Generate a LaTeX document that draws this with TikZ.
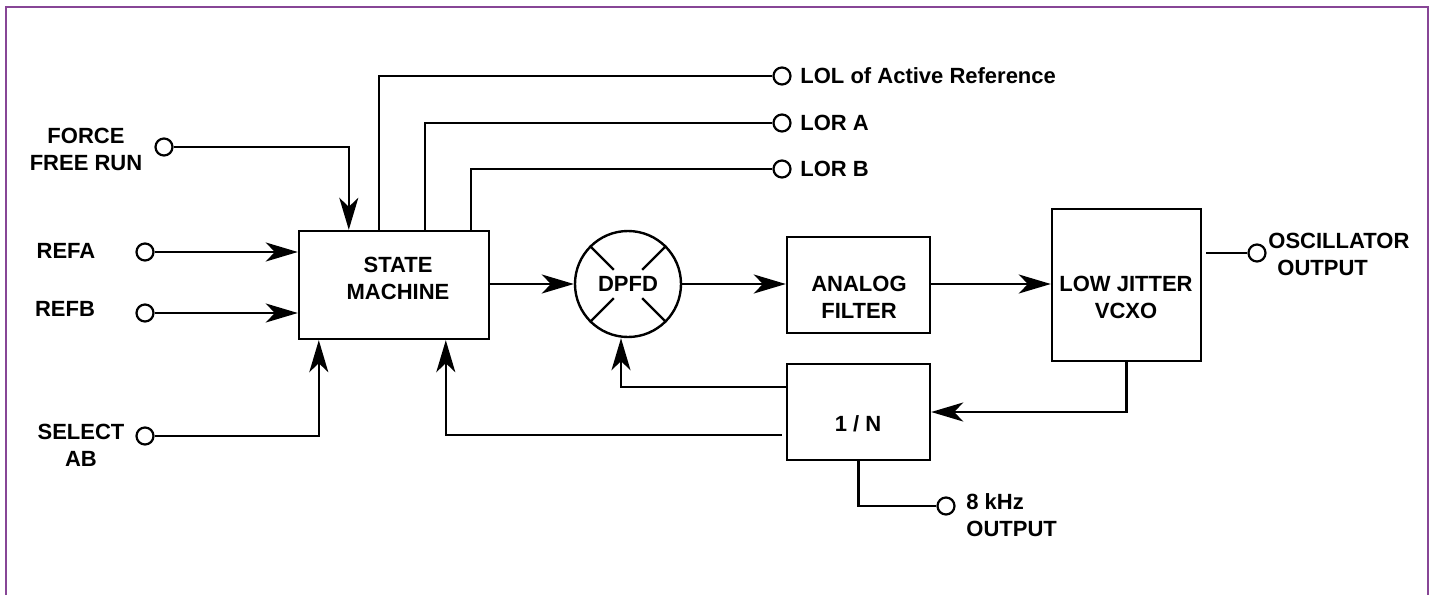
\documentclass[tikz,border=0pt]{standalone}
\usepackage{fontspec}
\setmainfont{Liberation Sans}
\usetikzlibrary{arrows.meta,calc}
\definecolor{frame}{RGB}{135,70,150}
\begin{document}
\begin{tikzpicture}[x=0.5pt,y=-0.5pt,
  every node/.style={font=\fontsize{11}{13.5}\selectfont\bfseries},
  wire/.style={line width=1.1pt,line join=miter},
  arr/.style={wire,-{Stealth[length=16pt,width=9.5pt,inset=4.5pt]}},
  blk/.style={draw,line width=1.2pt,inner sep=0pt},
  term/.style={draw,circle,line width=1.1pt,minimum size=8.5pt,inner sep=0pt,fill=white},
  lbl/.style={inner sep=0pt,align=center},
  lbll/.style={inner sep=0pt,align=left,anchor=west}]
\useasboundingbox (0,0) rectangle (1436,595);
\draw[frame,line width=1pt] (6,595) -- (6,7) -- (1428,7) -- (1428,595);

% blocks
\node[blk,minimum width=95pt,minimum height=54pt] (sm) at (394,285) {};
\node[lbl] (smt) at (398,278) {STATE\\MACHINE};
\node[blk,circle,minimum size=53pt] (dpfd) at (628,284) {};
\node[lbl] (dpfdt) at (628,284) {DPFD};
\node[blk,minimum width=71.5pt,minimum height=48pt] (af) at (858.5,285) {};
\node[lbl] (aft) at (859,297) {ANALOG\\FILTER};
\node[blk,minimum width=74.5pt,minimum height=76pt] (vcxo) at (1126.5,285) {};
\node[lbl] (vcxot) at (1126,297) {LOW JITTER\\VCXO};
\node[blk,minimum width=71.5pt,minimum height=48pt] (div) at (858.5,412) {};
\node[lbl] (divt) at (858,424) {1 / N};

% DPFD cross
\foreach \a in {45,135,225,315}
  \draw[wire] (dpfd.\a) -- ($(dpfd.center)+(\a:10pt)$);

% terminals
\node[term] (ffr) at (164,147) {};
\node[term] (refa) at (145,252) {};
\node[term] (refb) at (145,313) {};
\node[term] (sel) at (145,436) {};
\node[term] (lol) at (782,76) {};
\node[term] (lora) at (782,123) {};
\node[term] (lorb) at (782,169) {};
\node[term] (osc) at (1257,253) {};
\node[term] (khz) at (946,506) {};

% labels
\node[lbl] (ffrl) at (86,149) {FORCE\\FREE RUN};
\node[lbl] (refal) at (66,251) {REFA};
\node[lbl] (refbl) at (65,309) {REFB};
\node[lbl] (sell) at (81,445) {SELECT\\AB};
\node[lbll] (loll) at (800,76) {LOL of Active Reference};
\node[lbll] (loral) at (800,123) {LOR A};
\node[lbll] (lorbl) at (800,169) {LOR B};
\node[lbll] (oscl) at (1268,254) {OSCILLATOR\\\hspace*{4.5pt}OUTPUT};
\node[lbll] (khzl) at (966,515) {8 kHz\\OUTPUT};

% connectors
\draw[arr] (refa.east) -- (refa -| sm.west);
\draw[arr] (refb.east) -- (refb -| sm.west);
\draw[arr] (ffr.east) -| ($(sm.north west)+(51,0)$);
\draw[arr] (sel.east) -| ($(sm.south west)+(21,0)$);
\draw[wire] ($(sm.north west)+(81,0)$) |- (lol.west);
\draw[wire] ($(sm.north west)+(127,0)$) |- (lora.west);
\draw[wire] ($(sm.north west)+(173,0)$) |- (lorb.west);
\draw[arr] (sm.east |- dpfd.west) -- (dpfd.west);
\draw[arr] (dpfd.east) -- (af.west |- dpfd.east);
\draw[arr] (af.east |- dpfd.east) -- (vcxo.west |- dpfd.east);
\draw[wire,shorten <=2pt] (vcxo.east |- osc) -- (osc.west);
\draw[arr] (vcxo.south) |- (div.east);
\draw[arr] ($(div.north west)+(0,24)$) -| ($(dpfd.south)+(-7,0)$);
\draw[arr] ($(div.north west)+(-4,72)$) -| ($(sm.south west)+(148,0)$);
\draw[wire] (div.south) |- (khz.west);
\end{tikzpicture}
\end{document}
